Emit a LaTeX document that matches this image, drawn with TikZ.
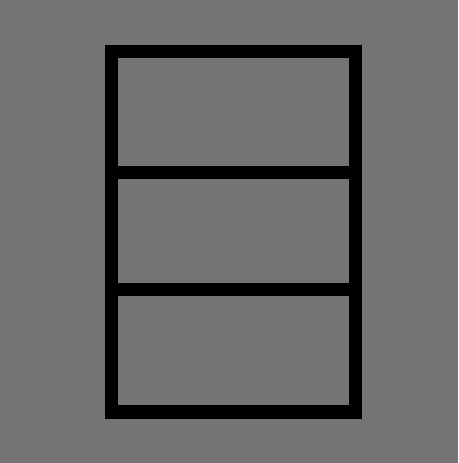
\documentclass[tikz,border=0pt]{standalone}
\begin{document}
\begin{tikzpicture}[x=1pt,y=-1pt,every node/.style={inner sep=0pt,outer sep=0pt}]
  \definecolor{dither}{HTML}{747474}
  \tikzset{panel/.style={fill=dither,minimum width=231pt,anchor=north west}}
  \useasboundingbox (0,0) rectangle (458,463);
  \fill[dither] (0,0) rectangle (458,463);
  \node[fill=black,minimum width=257pt,minimum height=374pt,anchor=north west] (frame) at (105,45) {};
  \node[panel,minimum height=108pt] (top) at (118,58) {};
  \node[panel,minimum height=104pt] (mid) at (118,179) {};
  \node[panel,minimum height=109pt] (bot) at (118,296) {};
\end{tikzpicture}
\end{document}
